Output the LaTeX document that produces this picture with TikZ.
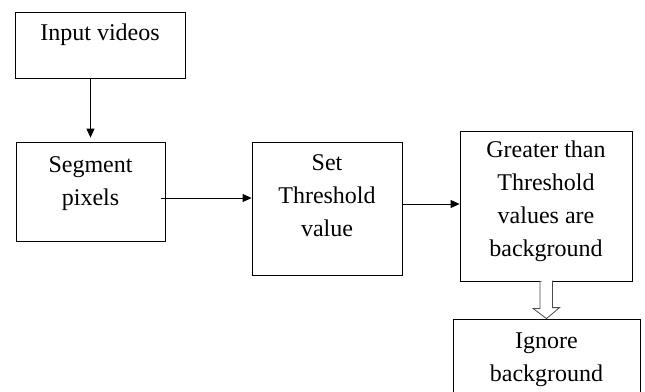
\documentclass[tikz,border=0pt]{standalone}
\usepackage{fontspec}
\setmainfont{Liberation Serif}
\usetikzlibrary{arrows.meta}
\newcommand{\boxtext}[4]{\parbox[c][#2pt][t]{#1pt}{\centering\rule{0pt}{#3pt}#4}}
\tikzset{procbox/.style={draw,shape=rectangle,inner sep=0pt,line width=0.8pt,font=\fontsize{24}{33}\selectfont},
  >={Triangle[length=9pt,width=8pt]}}
\begin{document}
\begin{tikzpicture}[x=1pt,y=-1pt,line width=0.8pt]
\useasboundingbox (0,0) rectangle (645,391);
\node [procbox,name=input] at (100,45) {\boxtext{170}{66}{28}{Input videos}};
\node [procbox,name=segment] at (90.5,191.5) {\boxtext{149}{99}{30}{Segment\\pixels}};
\node [procbox,name=set] at (327,208.5) {\boxtext{150}{133}{28}{Set\\Threshold\\value}};
\node [procbox,name=greater] at (546,206) {\boxtext{172}{150}{26}{Greater than\\Threshold\\values are\\background}};
\node [procbox,name=ignore] at (546.5,361.5) {\boxtext{187}{85}{29}{Ignore\\background}};
\draw[->,shorten >=4pt] (input.south -| segment.north)--(segment.north);
\draw[->] ([xshift=-4pt,yshift=-6.5pt]segment.east)--([yshift=-6.5pt]segment.east -| set.west);
\draw[->] ([yshift=4.5pt]set.east)--([yshift=4.5pt]set.east -| greater.west);
\draw[draw=black!70,fill=white] ([xshift=-6pt]greater.south)--++(0,27)--++(-7,0)--(ignore.north)--++(13,-11)--++(-7,0)--++(0,-27);
\end{tikzpicture}
\end{document}
